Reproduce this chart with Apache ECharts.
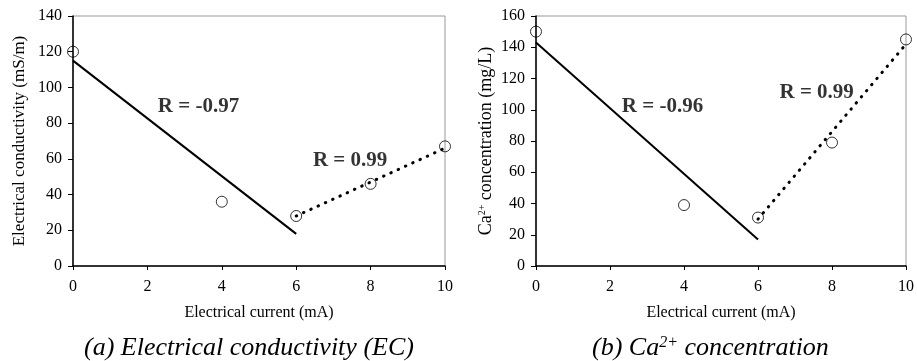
<!DOCTYPE html>
<html>
<head>
<meta charset="utf-8">
<script src="https://cdn.jsdelivr.net/npm/echarts@6/dist/echarts.min.js"></script>
<style>
  html, body { margin: 0; padding: 0; background: #ffffff; }
  #chart { width: 917px; height: 361px; }
</style>
</head>
<body>
<div id="chart"></div>
<script>
// measured points
var currentX = [0, 4, 6, 8, 10];
var ecVals = [120, 36, 28, 46, 67];
var caVals = [150, 39, 31, 79, 145];

// fitted trend lines
var fitDownX = [0, 6];
var fitUpX = [6, 10];
var ecFitDown = [115, 18];
var ecFitUp = [28, 66];
var caFitDown = [143, 17];
var caFitUp = [30, 142];

// R labels: [x, y, text]
var ecLabels = [[2.28, 89, 'R = -0.97'], [6.45, 59, 'R = 0.99']];
var caLabels = [[2.32, 102, 'R = -0.96'], [6.58, 111, 'R = 0.99']];

var font = 'Liberation Serif';

function pairs(xs, ys) {
  var out = [];
  for (var i = 0; i < xs.length; i++) {
    out.push([xs[i], ys[i]]);
  }
  return out;
}

function xAxisFor(idx) {
  return {
    type: 'value', gridIndex: idx, min: 0, max: 10, interval: 2,
    name: 'Electrical current (mA)', nameLocation: 'middle', nameGap: 39,
    nameTextStyle: { fontFamily: font, fontSize: 16, color: '#000' },
    axisLine: { show: true, onZero: false, lineStyle: { color: '#000', width: 1.5 } },
    axisTick: { show: true, length: 4, lineStyle: { color: '#000' } },
    axisLabel: { fontFamily: font, fontSize: 16, color: '#000', margin: 13 },
    splitLine: { show: false }
  };
}

function yAxisFor(idx, max, name, gap, size) {
  return {
    type: 'value', gridIndex: idx, min: 0, max: max, interval: 20,
    name: name, nameLocation: 'middle', nameGap: gap, nameRotate: 90,
    nameTextStyle: {
      fontFamily: font, fontSize: size, color: '#000',
      rich: {
        t: { fontFamily: font, fontSize: size, color: '#000' },
        sup: { fontFamily: font, fontSize: 10, color: '#000', verticalAlign: 'top' }
      }
    },
    axisLine: { show: true, onZero: false, lineStyle: { color: '#000', width: 1.5 } },
    axisTick: { show: true, length: 5, lineStyle: { color: '#000' } },
    axisLabel: { fontFamily: font, fontSize: 16, color: '#000', margin: 11 },
    splitLine: { show: false }
  };
}

function pointSeries(idx, ys) {
  return {
    type: 'scatter', xAxisIndex: idx, yAxisIndex: idx,
    data: pairs(currentX, ys),
    symbol: 'circle', symbolSize: 11, z: 5,
    itemStyle: { color: 'rgba(255,255,255,0)', borderColor: '#000', borderWidth: 1 }
  };
}

function lineSeries(idx, xs, ys, dotted) {
  return {
    type: 'line', xAxisIndex: idx, yAxisIndex: idx,
    data: pairs(xs, ys), symbol: 'none', z: 3,
    lineStyle: dotted
      ? { color: '#000', width: 3, type: [0.5, 7.5], cap: 'round' }
      : { color: '#000', width: 2 }
  };
}

function labelSeries(idx, labels) {
  return {
    type: 'scatter', xAxisIndex: idx, yAxisIndex: idx,
    data: labels.map(function(l) { return { value: [l[0], l[1]], name: l[2] }; }),
    symbolSize: 0, z: 6, silent: true,
    label: {
      show: true, position: 'right', distance: 0,
      formatter: function(p) { return p.name; },
      fontFamily: font, fontSize: 21, fontWeight: 'bold', color: '#000'
    }
  };
}

var chart = echarts.init(document.getElementById('chart'), null, { renderer: 'canvas' });
chart.setOption({
  backgroundColor: '#ffffff',
  animation: false,
  title: [{
    text: '(a) Electrical conductivity (EC)',
    left: 79, top: 330,
    textStyle: { fontFamily: font, fontSize: 26, fontStyle: 'italic', fontWeight: 'normal', color: '#000' }
  }, {
    text: '(b) Ca{sup|2+} concentration',
    left: 587, top: 330,
    textStyle: {
      fontFamily: font, fontSize: 26, fontStyle: 'italic', fontWeight: 'normal', color: '#000',
      rich: {
        sup: { fontFamily: font, fontSize: 16, fontStyle: 'italic', color: '#000', verticalAlign: 'top' }
      }
    }
  }],
  grid: [
    { left: 73, top: 16, width: 372, height: 250, show: true, borderColor: '#999', borderWidth: 1 },
    { left: 536, top: 16, width: 371, height: 250, show: true, borderColor: '#999', borderWidth: 1 }
  ],
  xAxis: [xAxisFor(0), xAxisFor(1)],
  yAxis: [
    yAxisFor(0, 140, 'Electrical conductivity (mS/m)', 45, 17),
    yAxisFor(1, 160, '{t|Ca}{sup|2+}{t| concentration (mg/L)}', 41, 18)
  ],
  series: [
    lineSeries(0, fitDownX, ecFitDown, false),
    lineSeries(0, fitUpX, ecFitUp, true),
    pointSeries(0, ecVals),
    labelSeries(0, ecLabels),
    lineSeries(1, fitDownX, caFitDown, false),
    lineSeries(1, fitUpX, caFitUp, true),
    pointSeries(1, caVals),
    labelSeries(1, caLabels)
  ]
});
</script>
</body>
</html>
